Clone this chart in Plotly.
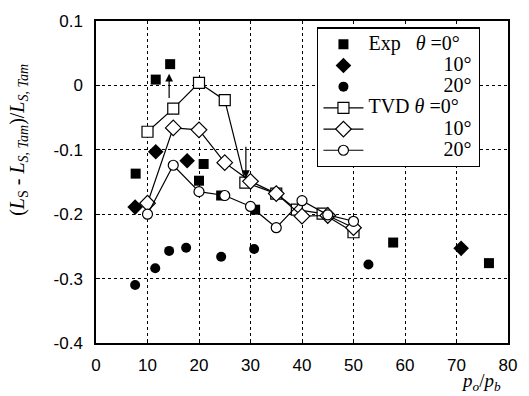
import plotly.graph_objects as go

# Experimental data
exp0_x = [7.7, 11.6, 14.4, 20.0, 20.9, 24.3, 30.9, 57.7, 76.3]
exp0_y = [-0.137, 0.009, 0.033, -0.148, -0.122, -0.171, -0.193, -0.244, -0.276]
exp10_x = [7.6, 11.6, 17.7, 70.9]
exp10_y = [-0.189, -0.103, -0.117, -0.253]
exp20_x = [7.6, 11.5, 14.2, 17.5, 24.3, 30.7, 52.9]
exp20_y = [-0.310, -0.284, -0.257, -0.252, -0.266, -0.254, -0.278]

# TVD computations
tvd_x = [10, 15, 20, 25, 29, 35, 39, 44, 50]
tvd0_y = [-0.072, -0.036, 0.004, -0.023, -0.151, -0.168, -0.193, -0.199, -0.228]
tvd10_x = [10, 15, 20, 25, 30, 35, 40, 45, 50]
tvd10_y = [-0.183, -0.066, -0.069, -0.120, -0.149, -0.168, -0.203, -0.202, -0.221]
tvd20_x = [10, 15, 20, 25, 30, 35, 40, 45, 50]
tvd20_y = [-0.200, -0.124, -0.165, -0.171, -0.188, -0.221, -0.179, -0.201, -0.211]

# Arrows (tail -> head)
arrows = [((14.2, -0.022), (14.2, 0.018)), ((29.1, -0.093), (29.1, -0.144))]

x_ticks = [0, 10, 20, 30, 40, 50, 60, 70, 80]
y_ticks = [0.1, 0, -0.1, -0.2, -0.3, -0.4]
y_tick_text = ["0.1", "0", "-0.1", "-0.2", "-0.3", "-0.4"]

SERIF = "Liberation Serif"
NB = "\u00a0"


def big(s):
    return '<span style="font-size:20px">' + s + "</span>"


fig = go.Figure()
fig.add_trace(go.Scatter(x=exp0_x, y=exp0_y, mode="markers", name=big("Exp" + NB * 3 + "<i>θ</i> =0°"),
                         marker=dict(symbol="square", size=10, color="black")))
fig.add_trace(go.Scatter(x=exp10_x, y=exp10_y, mode="markers", name=big(NB * 15 + "10°"),
                         marker=dict(symbol="diamond", size=12, color="black")))
fig.add_trace(go.Scatter(x=exp20_x, y=exp20_y, mode="markers", name=big(NB * 15 + "20°"),
                         marker=dict(symbol="circle", size=10, color="black")))
fig.add_trace(go.Scatter(x=tvd_x, y=tvd0_y, mode="lines+markers", name=big("TVD <i>θ</i> =0°" + NB * 3),
                         line=dict(color="black", width=1.2),
                         marker=dict(symbol="square", size=11, color="white", line=dict(color="black", width=1.2))))
fig.add_trace(go.Scatter(x=tvd10_x, y=tvd10_y, mode="lines+markers", name=big(NB * 15 + "10°"),
                         line=dict(color="black", width=1.2),
                         marker=dict(symbol="diamond", size=12, color="white", line=dict(color="black", width=1.2))))
fig.add_trace(go.Scatter(x=tvd20_x, y=tvd20_y, mode="lines+markers", name=big(NB * 15 + "20°"),
                         line=dict(color="black", width=1.2),
                         marker=dict(symbol="circle", size=10, color="white", line=dict(color="black", width=1.2))))

for (tx, ty), (hx, hy) in arrows:
    fig.add_annotation(x=hx, y=hy, ax=tx, ay=ty, xref="x", yref="y", axref="x", ayref="y",
                       showarrow=True, arrowhead=2, arrowsize=1.3, arrowwidth=1.2, arrowcolor="black", text="")

fig.add_annotation(text="(<i>L</i><sub>S</sub> - <i>L</i><sub><i>S, Tam</i></sub>)/<i>L</i><sub><i>S, Tam</i></sub>",
                   xref="paper", yref="paper", x=-0.19, y=0.63, textangle=-90, showarrow=False,
                   font=dict(family=SERIF, size=20, color="black"), xanchor="center", yanchor="middle")
fig.add_annotation(text="<i>p</i><sub><i>o</i></sub>/<i>p</i><sub><i>b</i></sub>",
                   xref="paper", yref="paper", x=0.935, y=-0.12, showarrow=False,
                   font=dict(family=SERIF, size=19, color="black"), xanchor="center", yanchor="middle")

axis_common = dict(showline=True, linecolor="black", linewidth=1.5, mirror=True,
                   showgrid=True, gridcolor="black", griddash="dot", gridwidth=1,
                   ticks="inside", ticklen=4, tickcolor="black", zeroline=False,
                   tickfont=dict(family="Liberation Sans", size=17, color="black"))

fig.update_xaxes(range=[0, 80], tickvals=x_ticks, ticklabelstandoff=6, **axis_common)
fig.update_yaxes(range=[-0.4, 0.1], tickvals=y_ticks, ticktext=y_tick_text, ticklabelstandoff=8,
                 **axis_common)

fig.update_layout(
    width=529, height=396,
    margin=dict(l=96, r=12, t=17, b=53),
    plot_bgcolor="white", paper_bgcolor="white",
    showlegend=True,
    legend=dict(x=0.537, y=0.98, xanchor="left", yanchor="top",
                bgcolor="white", bordercolor="black", borderwidth=1.2,
                font=dict(family=SERIF, size=14, color="black"),
                tracegroupgap=0, itemwidth=40),
)

fig.write_html("out.html")
